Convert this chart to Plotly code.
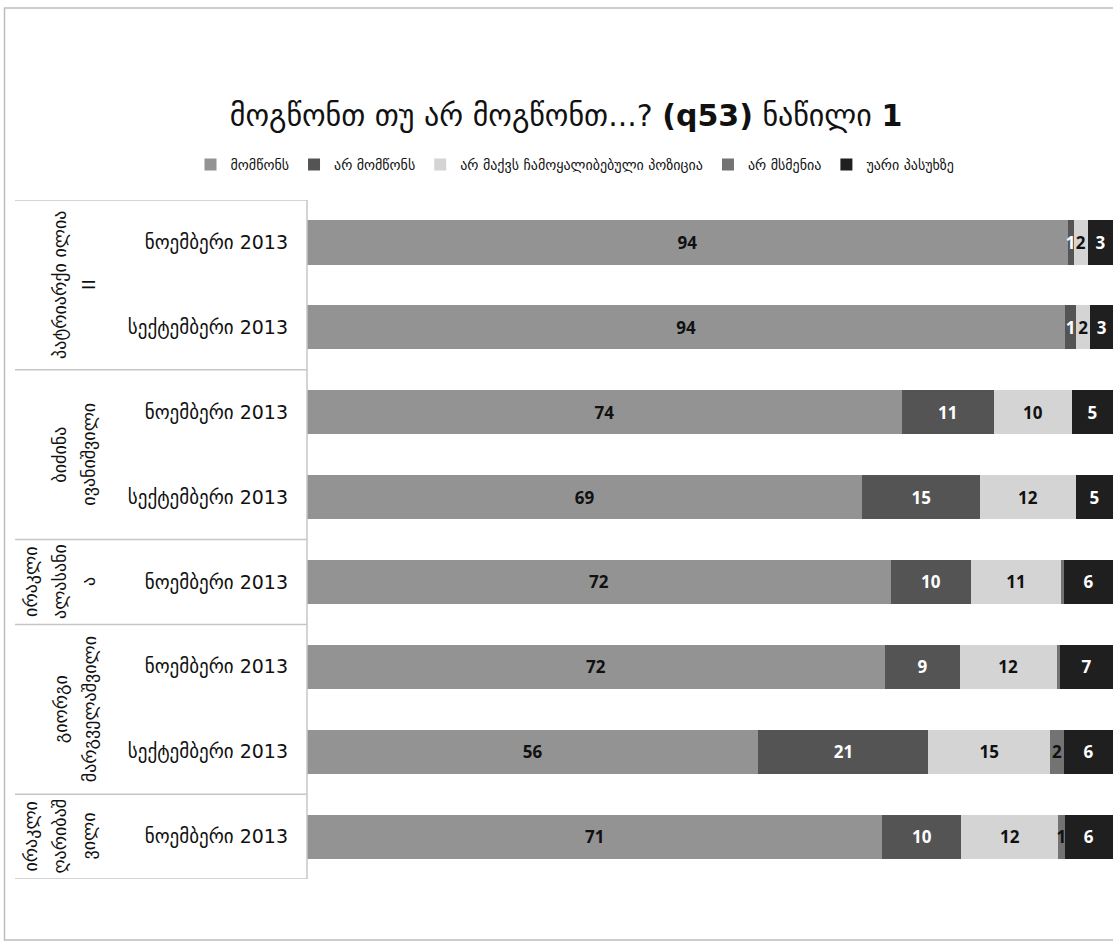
import plotly.graph_objects as go

# ---- data ----
groups = [["პატრიარქი ილია", "II"], ["ბიძინა", "ივანიშვილი"], ["ირაკლი", "ალასანი", "ა"],
          ["გიორგი", "მარგველაშვილი"], ["ირაკლი", "ღარიბაშ", "ვილი"]]
group_sizes = [2, 2, 1, 2, 1]
periods = ["ნოემბერი 2013", "სექტემბერი 2013", "ნოემბერი 2013", "სექტემბერი 2013",
           "ნოემბერი 2013", "ნოემბერი 2013", "სექტემბერი 2013", "ნოემბერი 2013"]

series_names = ["მომწონს", "არ მომწონს", "არ მაქვს ჩამოყალიბებული პოზიცია", "არ მსმენია", "უარი პასუხზე"]
like      = [94.4, 94.1, 73.8, 68.9, 72.4, 71.7, 56.0, 71.4]
dislike   = [0.7, 1.3, 11.4, 14.6, 10.0, 9.3, 21.1, 9.8]
no_pos    = [1.8, 1.8, 9.7, 11.9, 11.1, 12.0, 15.1, 12.0]
not_heard = [0.0, 0.0, 0.0, 0.0, 0.4, 0.4, 1.7, 0.8]
refused   = [3.1, 2.8, 5.1, 4.6, 6.1, 6.6, 6.1, 6.0]
series_values = [like, dislike, no_pos, not_heard, refused]

colors = ["#939393", "#545454", "#d4d4d4", "#737373", "#1f1f1f"]
label_colors = ["#111111", "#ffffff", "#111111", "#111111", "#ffffff"]

W, H = 1113, 942
ML, MR, MT, MB = 307, 0, 200, 63
PW = W - ML - MR

fig = go.Figure()
idx = list(range(len(periods)))
for name, vals, c, lc in zip(series_names, series_values, colors, label_colors):
    txt = [f"{v:.0f}" if v >= 0.5 else "" for v in vals]
    fig.add_trace(go.Bar(
        y=idx, x=vals, orientation="h", name=name,
        marker=dict(color=c, line=dict(width=0)),
        text=txt, textposition="inside", insidetextanchor="middle",
        textangle=0,
        insidetextfont=dict(color=lc, size=17, family="Open Sans", weight="bold"),
        cliponaxis=False,
    ))

fig.update_layout(
    barmode="stack", bargap=0.48,
    width=W, height=H,
    margin=dict(l=ML, r=MR, t=MT, b=MB),
    paper_bgcolor="white", plot_bgcolor="white",
    font=dict(family="DejaVu Sans", color="#111111"),
    uniformtext=dict(minsize=17, mode="show"),
    title=dict(
        text="მოგწონთ თუ არ მოგწონთ...? <b>(q53)</b> ნაწილი <b>1</b>",
        x=566 / W, xanchor="center", xref="container",
        y=1 - 115 / H, yanchor="middle", yref="container",
        font=dict(size=30, family="DejaVu Sans", color="#111111"),
    ),
    legend=dict(
        orientation="h", xref="container", yref="container",
        x=575 / W, xanchor="center", y=1 - 165 / H, yanchor="middle",
        font=dict(size=14, family="DejaVu Sans"),
        traceorder="normal", itemwidth=30, itemclick=False,
    ),
    showlegend=True,
)
fig.update_xaxes(range=[0, 100], visible=False, fixedrange=True)
fig.update_yaxes(
    tickvals=idx, ticktext=periods, range=[len(periods) - 0.5, -0.5],
    showgrid=False, zeroline=False, showline=False, ticks="",
    ticklabelstandoff=18, tickfont=dict(size=19, family="DejaVu Sans", color="#111111"),
    fixedrange=True,
)

# table lines on the category side
line_col = "#c6c6c6"
bounds = [-0.5]
acc = -0.5
for s in group_sizes:
    acc += s
    bounds.append(acc)
x_left = (15 - ML) / PW
for b in bounds:
    fig.add_shape(type="line", xref="paper", yref="y", x0=x_left, x1=0, y0=b, y1=b,
                  line=dict(color=line_col, width=1.5), layer="above")
fig.add_shape(type="line", xref="paper", yref="y", x0=0, x1=0, y0=bounds[0], y1=bounds[-1],
              line=dict(color=line_col, width=1.5), layer="above")

# outer border
fig.add_shape(type="rect", xref="paper", yref="paper",
              x0=(4.5 - ML) / PW, x1=(W + 5 - ML) / PW,
              y0=-(940 - (H - MB)) / (H - MT - MB), y1=1 + (MT - 8) / (H - MT - MB),
              line=dict(color="#bdbdbd", width=1.5), layer="below")

# group labels (rotated, one annotation per wrapped line)
LAST_X, STEP = 89, 29
start = 0
for lines, s in zip(groups, group_sizes):
    center = start + (s - 1) / 2
    n = len(lines)
    for i, ln in enumerate(lines):
        xpx = LAST_X - (n - 1 - i) * STEP
        fig.add_annotation(
            text=ln, xref="paper", yref="y", x=(xpx - ML) / PW, y=center,
            xanchor="center", yanchor="middle", textangle=-90, showarrow=False,
            font=dict(size=18, family="DejaVu Sans", color="#111111"),
        )
    start += s

fig.write_html("out.html", config={"displayModeBar": False},
               post_script="document.body.style.margin='0';document.body.style.overflow='hidden';")
